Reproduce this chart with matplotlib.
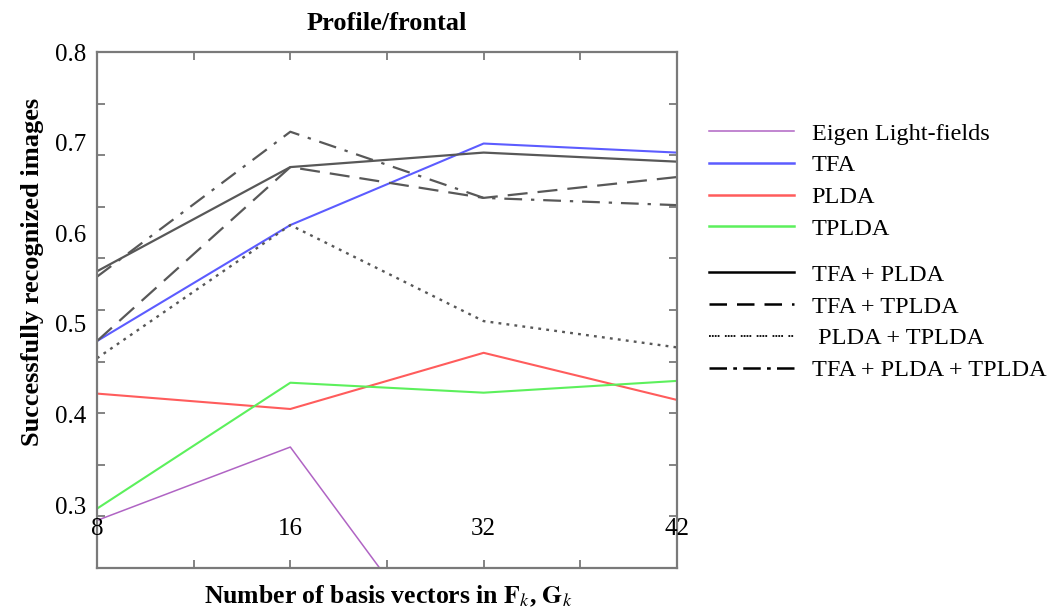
import numpy as np
import matplotlib
matplotlib.use("Agg")
import matplotlib.pyplot as plt
from matplotlib.lines import Line2D

plt.rcParams['font.family'] = ['Liberation Serif', 'DejaVu Serif']
plt.rcParams['mathtext.fontset'] = 'stix'

# ---- data ----
x_labels = ["8", "16", "32", "42"]
eigen = [0.283, 0.364, 0.075, 0.060]
tfa = [0.481, 0.609, 0.699, 0.689]
plda = [0.423, 0.406, 0.468, 0.416]
tplda = [0.296, 0.435, 0.424, 0.437]
tfa_plda = [0.558, 0.673, 0.689, 0.679]
tfa_tplda = [0.481, 0.673, 0.639, 0.662]
plda_tplda = [0.462, 0.609, 0.503, 0.474]
tfa_plda_tplda = [0.552, 0.712, 0.639, 0.631]
y_ticks = [0.3, 0.4, 0.5, 0.6, 0.7, 0.8]
legend_labels_1 = ["Eigen Light-fields", "TFA", "PLDA", "TPLDA"]
legend_labels_2 = ["TFA + PLDA", "TFA + TPLDA", " PLDA + TPLDA", "TFA + PLDA + TPLDA"]

xpos = np.arange(len(x_labels))

fig = plt.figure(figsize=(10.51, 6.12), dpi=100)
ax = fig.add_axes([0.0923, 0.0719, 0.5518, 0.8431])

C_PURPLE = "#b064c4"
C_BLUE = "#5c5cff"
C_RED = "#ff5c5c"
C_GREEN = "#5cf05c"
C_GRAY = "#585858"

ax.plot(xpos, eigen, color=C_PURPLE, lw=1.1)
ax.plot(xpos, tfa, color=C_BLUE, lw=1.5)
ax.plot(xpos, plda, color=C_RED, lw=1.5)
ax.plot(xpos, tplda, color=C_GREEN, lw=1.5)
ax.plot(xpos, tfa_plda, color=C_GRAY, lw=1.6, ls='-')
ax.plot(xpos, tfa_tplda, color=C_GRAY, lw=1.6, ls=(0, (9, 4.5)))
ax.plot(xpos, plda_tplda, color=C_GRAY, lw=1.7, ls=(0, (1.2, 2.2)))
ax.plot(xpos, tfa_plda_tplda, color=C_GRAY, lw=1.6, ls=(0, (8, 4, 1.5, 4)))

ax.set_xlim(0, 3)
ax.set_ylim(0.2305, 0.8)

# tick labels
ax.set_yticks(y_ticks)
ax.set_yticklabels([f"{v:.1f}" for v in y_ticks])
ax.tick_params(axis='y', which='major', length=0, pad=8, labelsize=18)

# minor tick marks (evenly spaced, inward, all sides)
ylo, yhi = ax.get_ylim()
ax.set_yticks(np.linspace(ylo, yhi, 11), minor=True)
ax.set_xticks(np.arange(0, 3.01, 0.5))
ax.set_xticklabels([])
ax.tick_params(axis='both', which='both', direction='in', top=True, right=True,
               color='#7a7a7a', width=1.3)
ax.tick_params(axis='x', which='major', length=6)
ax.tick_params(axis='y', which='minor', length=6)

for i, lab in enumerate(x_labels):
    ax.text(xpos[i], 0.075, lab, transform=ax.get_xaxis_transform(),
            ha='center', va='center', fontsize=18, clip_on=False)

for sp in ax.spines.values():
    sp.set_color('#7a7a7a')
    sp.set_linewidth(1.6)

ax.set_title("Profile/frontal", fontsize=19, fontweight='bold', pad=16)
ax.set_xlabel(r"Number of basis vectors in $\mathbf{F}_{k}$, $\mathbf{G}_{k}$",
              fontsize=18.5, fontweight='bold')
ax.xaxis.set_label_coords(0.503, -0.03)
ax.set_ylabel("Successfully recognized images", fontsize=19, fontweight='bold')
ax.yaxis.set_label_coords(-0.092, 0.574)

h1 = [Line2D([], [], color=C_PURPLE, lw=1.1),
      Line2D([], [], color=C_BLUE, lw=1.8),
      Line2D([], [], color=C_RED, lw=1.8),
      Line2D([], [], color=C_GREEN, lw=1.8)]
h2 = [Line2D([], [], color='black', lw=1.8, ls='-'),
      Line2D([], [], color='black', lw=1.8, ls=(0, (7, 4))),
      Line2D([], [], color='black', lw=1.3, ls=(0, (1, 0.6, 1, 0.6, 1, 0.6, 1, 3))),
      Line2D([], [], color='black', lw=1.8, ls=(0, (7, 2.5, 1.5, 2.5)))]

common = dict(loc='center left', frameon=False, fontsize=17.5, handlelength=3.5,
              handletextpad=0.7, labelspacing=0.4, borderpad=0, borderaxespad=0)
lg1 = fig.legend(h1, legend_labels_1, bbox_to_anchor=(0.675, 0.704), **common)
lg2 = fig.legend(h2, legend_labels_2, bbox_to_anchor=(0.675, 0.473), **common)

fig.savefig("out.png", dpi=100)
